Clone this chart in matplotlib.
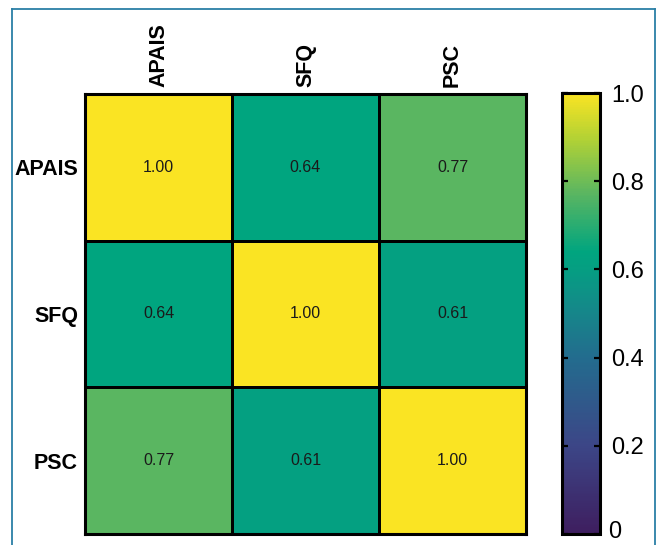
import numpy as np
import matplotlib
matplotlib.use("Agg")
import matplotlib.pyplot as plt
from matplotlib.lines import Line2D
from matplotlib.colors import LinearSegmentedColormap

plt.rcParams['font.family'] = ['Liberation Sans', 'DejaVu Sans']

labels = ["APAIS", "SFQ", "PSC"]
corr = np.array([
    [1.00, 0.64, 0.77],
    [0.64, 1.00, 0.61],
    [0.77, 0.61, 1.00],
])
cbar_ticks = [0, 0.2, 0.4, 0.6, 0.8, 1.0]
cbar_ticklabels = ["0", "0.2", "0.4", "0.6", "0.8", "1.0"]

# softened viridis-style palette
cmap_stops = [
    (0.00, (62, 30, 95)),
    (0.20, (60, 70, 135)),
    (0.40, (35, 108, 142)),
    (0.50, (22, 134, 138)),
    (0.60, (5, 158, 130)),
    (0.64, (0, 165, 127)),
    (0.77, (88, 181, 98)),
    (0.90, (180, 210, 52)),
    (1.00, (250, 228, 35)),
]
cmap = LinearSegmentedColormap.from_list(
    "soft_viridis", [(p, tuple(c / 255 for c in rgb)) for p, rgb in cmap_stops])

W, H = 657, 545
fig = plt.figure(figsize=(W / 100, H / 100), dpi=100)

def fig_rect(x0, y0, x1, y1):
    return [x0 / W, 1 - y1 / H, (x1 - x0) / W, (y1 - y0) / H]

ax = fig.add_axes(fig_rect(85, 94, 526, 534))
cax = fig.add_axes(fig_rect(562, 93, 600, 534))

n = len(labels)
mesh = ax.pcolormesh(np.arange(n + 1), np.arange(n + 1), corr, cmap=cmap,
                     vmin=0, vmax=1, edgecolors="black", linewidth=1.0)
ax.set_xlim(0, n)
ax.set_ylim(n, 0)
for s in ax.spines.values():
    s.set_linewidth(2.2)
    s.set_color("black")

ax.xaxis.tick_top()
ax.set_xticks(np.arange(n) + 0.5)
ax.set_xticklabels(labels, rotation=90, fontsize=15.5, fontweight="bold")
ax.set_yticks(np.arange(n) + 0.5)
ax.set_yticklabels(labels, fontsize=15.5, fontweight="bold")
ax.tick_params(length=0, pad=5)
ax.tick_params(axis="y", pad=5)

for i in range(n):
    for j in range(n):
        ax.text(j + 0.5, i + 0.5, f"{corr[i, j]:.2f}", ha="center", va="center",
                fontsize=11.5, color="#1a1a1a")

cb = fig.colorbar(mesh, cax=cax)
cb.outline.set_linewidth(2.2)
cb.outline.set_edgecolor("black")
cb.set_ticks(cbar_ticks)
# the lowest label is drawn separately so it sits just inside the canvas
cb.set_ticklabels([""] + cbar_ticklabels[1:])
cax.tick_params(axis="y", direction="in", left=True, right=True, length=4,
                width=1.6, labelsize=17, pad=8)
fig.text(608 / W, 1 - 543 / H, cbar_ticklabels[0], fontsize=17,
         ha="left", va="bottom")

# thin teal frame around the figure
frame_color = "#2b7fa6"
fx0, fy0, fx1 = 11.5 / W, 1 - 8.5 / H, 654.5 / W
fig.add_artist(Line2D([fx0, fx0], [0, fy0], transform=fig.transFigure,
                      color=frame_color, lw=1.3))
fig.add_artist(Line2D([fx0, fx1], [fy0, fy0], transform=fig.transFigure,
                      color=frame_color, lw=1.3))
fig.add_artist(Line2D([fx1, fx1], [0, fy0], transform=fig.transFigure,
                      color=frame_color, lw=1.3))

fig.savefig("out.png", dpi=100)
